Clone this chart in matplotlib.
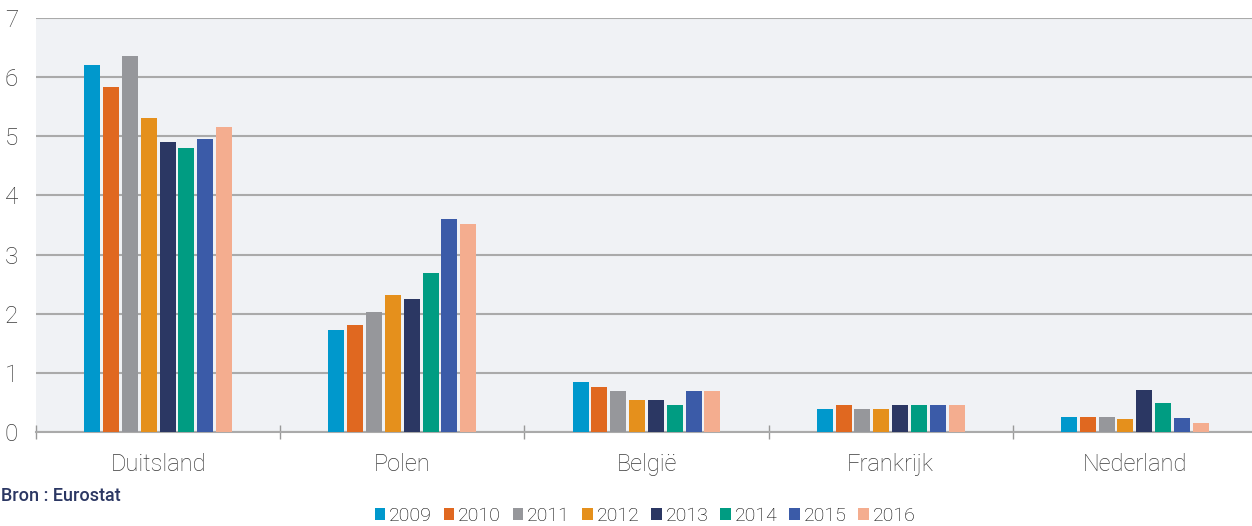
import numpy as np
import matplotlib
matplotlib.use('Agg')
import matplotlib.pyplot as plt

plt.rcParams['font.family'] = ['Roboto', 'DejaVu Sans']

# data
landen = ['Duitsland', 'Polen', 'België', 'Frankrijk', 'Nederland']
jaren = ['2009', '2010', '2011', '2012', '2013', '2014', '2015', '2016']
kleuren = ['#0098CC', '#E06820', '#96979B', '#E5901C', '#2B3763', '#009C82', '#3B5BA8', '#F4AD8F']

v2009 = [6.21, 1.72, 0.85, 0.39, 0.25]
v2010 = [5.83, 1.81, 0.76, 0.46, 0.25]
v2011 = [6.36, 2.03, 0.70, 0.39, 0.25]
v2012 = [5.31, 2.32, 0.54, 0.39, 0.22]
v2013 = [4.90, 2.25, 0.54, 0.46, 0.71]
v2014 = [4.80, 2.69, 0.46, 0.46, 0.49]
v2015 = [4.95, 3.60, 0.70, 0.46, 0.24]
v2016 = [5.16, 3.52, 0.70, 0.46, 0.15]
waarden = [v2009, v2010, v2011, v2012, v2013, v2014, v2015, v2016]

fig = plt.figure(figsize=(12.52, 5.26), dpi=100)
ax = fig.add_axes([36/1252, 94/526, 1221/1252, 414/526])
ax.set_facecolor('#F0F2F5')

x = np.arange(len(landen))
pitch = 0.0772
breedte = 0.0655
for i, (jaar, vals) in enumerate(zip(jaren, waarden)):
    ax.bar(x + (i - 3.5) * pitch, vals, breedte, color=kleuren[i], label=jaar, zorder=3)

ax.set_xlim(-0.5, 4.5)
ax.set_ylim(0, 7)
ax.set_yticks(range(8))
ax.yaxis.grid(True, color='#AAAAAA', linewidth=1.5, zorder=0)
ax.tick_params(axis='y', length=0, pad=13, labelsize=17.5, labelcolor='#3A3A3A')
for lab in ax.get_yticklabels():
    lab.set_fontweight('light')

ax.set_xticks(x)
ax.set_xticklabels(landen, fontsize=17, fontweight='light', color='#3A3A3A')
ax.set_xticks(np.arange(-0.5, 4.6, 1), minor=True)
ax.tick_params(axis='x', which='major', length=0, pad=15)
ax.tick_params(axis='x', which='minor', length=10, direction='inout', color='#999999', width=1)

for s in ['top', 'right', 'left']:
    ax.spines[s].set_visible(False)
ax.spines['bottom'].set_color('#AAAAAA')
ax.spines['bottom'].set_linewidth(1.5)

fig.text(1/1252, 1 - 496/526, 'Bron : Eurostat', ha='left', va='center',
         fontsize=13, fontweight='medium', color='#2B3763')

fig.legend(loc='center', bbox_to_anchor=(645/1252, 1 - 516/526), ncol=8, frameon=False,
           handlelength=0.55, handleheight=0.6, handletextpad=0.2, columnspacing=0.6,
           prop={'size': 14, 'weight': 'light'}, borderpad=0)

plt.savefig('out.png', dpi=100)
